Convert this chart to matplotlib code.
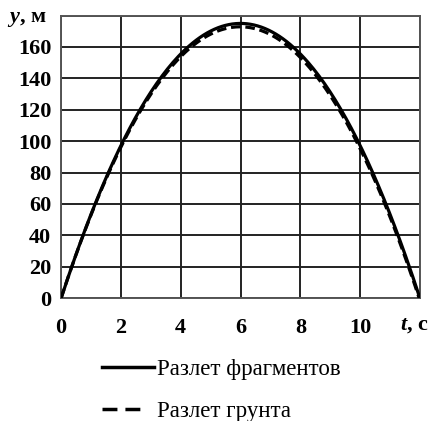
import numpy as np
import matplotlib.pyplot as plt
from matplotlib.lines import Line2D

# values
t_frag = [0, 1, 2, 3, 4, 5, 6, 7, 8, 9, 10, 11, 12]
y_frag = [0, 53, 97, 131, 156, 170, 175, 170, 156, 131, 97, 53, 0]
t_soil = [0, 1, 2, 3, 4, 5, 6, 7, 8, 9, 10, 11, 12]
y_soil = [0, 52, 96, 130, 155, 169, 173, 168, 153, 128, 94, 51, 0]
x_ticks = [0, 2, 4, 6, 8, 10]
y_ticks = [0, 20, 40, 60, 80, 100, 120, 140, 160]
labels = ["Разлет фрагментов", "Разлет грунта"]

plt.rcParams['font.family'] = ['Liberation Serif', 'DejaVu Serif']
plt.rcParams['mathtext.fontset'] = 'custom'
plt.rcParams['mathtext.it'] = 'Liberation Serif:italic:bold'
plt.rcParams['mathtext.rm'] = 'Liberation Serif:bold'

fig = plt.figure(figsize=(4.33, 4.21), dpi=100)
ax = fig.add_axes([0.141, 0.292, 0.829, 0.671])

# smooth the read points with a quadratic fit for drawing
tf = np.linspace(0, 12, 200)
ax.plot(tf, np.polyval(np.polyfit(t_frag, y_frag, 2), tf), color='black', lw=2.3, zorder=3)
ax.plot(tf, np.polyval(np.polyfit(t_soil, y_soil, 2), tf), color='black', lw=2.3,
        ls=(0, (3, 1.5)), zorder=3)

ax.set_xlim(0, 12)
ax.set_ylim(0, 180)
ax.set_xticks(x_ticks + [12])
ax.set_yticks(y_ticks + [180])
ax.grid(True, color='#222222', lw=1.4)
ax.tick_params(axis='y', length=0, pad=7, labelsize=16)
ax.tick_params(axis='x', length=0, pad=14, labelsize=16)
ax.set_xticklabels([str(v) for v in x_ticks] + [''], fontweight='bold')
ax.set_yticklabels([str(v) for v in y_ticks] + [''], fontweight='bold')
for s in ax.spines.values():
    s.set_color('#555555')
    s.set_linewidth(1.4)

ax.text(11.8, -17, r'$t$, с', ha='center', va='center', fontsize=16,
        fontweight='bold', clip_on=False)
ax.text(-1.15, 178, r'$y$, м', ha='center', va='center', fontsize=16,
        fontweight='bold', clip_on=False)

handles = [Line2D([], [], color='black', lw=2.5),
           Line2D([], [], color='black', lw=2.5, ls=(0, (4.3, 2.3, 4.3, 8.6)))]
fig.legend(handles, labels, loc='center', bbox_to_anchor=(0.51, 0.072), frameon=False,
           prop={'size': 16.5}, handlelength=2.3, handletextpad=0.1, labelspacing=0.9)

fig.savefig('out.png', dpi=100)
